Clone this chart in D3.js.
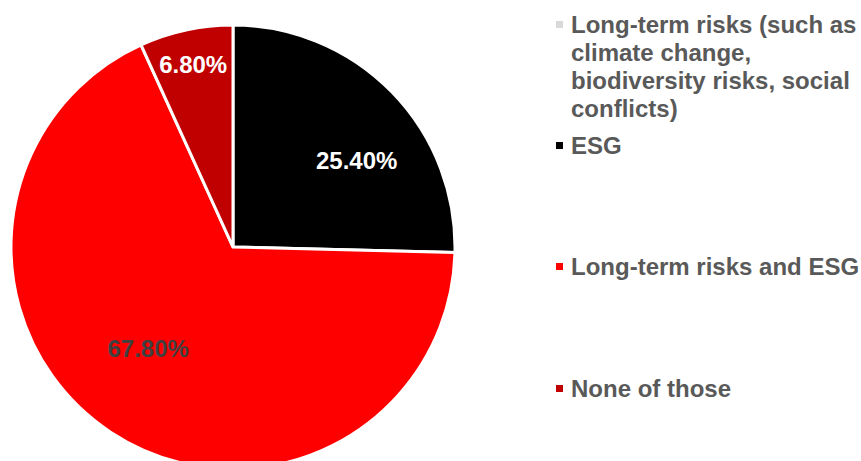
<!DOCTYPE html>
<html><head><meta charset="utf-8">
<script src="https://cdn.jsdelivr.net/npm/d3@7"></script>
<style>html,body{margin:0;padding:0;background:#fff;}svg{display:block;}</style>
</head><body>
<svg id="chart" width="861" height="461"></svg>
<script>
const categories = ["Long-term risks (such as climate change, biodiversity risks, social conflicts)", "ESG", "Long-term risks and ESG", "None of those"];
const values = [0, 25.4, 67.8, 6.8];
const labels = ["", "25.40%", "67.80%", "6.80%"];
const legendLines = [["Long-term risks (such as", "climate change,", "biodiversity risks, social", "conflicts)"], ["ESG"], ["Long-term risks and ESG"], ["None of those"]];
const colors = ["#d9d9d9", "#000000", "#ff0000", "#c00000"];
const labelColors = ["#ffffff", "#ffffff", "#404040", "#ffffff"];
// label placement: [angle in degrees clockwise from top, radius]
const labelPlace = [[0, 0], [55, 151], [220, 132], [347.7, 187]];

const FONT = "'Liberation Sans', Arial, Helvetica, sans-serif";
const svg = d3.select("#chart");
const cx = 233, cy = 247, r = 222;
const g = svg.append("g").attr("transform", `translate(${cx},${cy})`);
const pie = d3.pie().sort(null).value(d => d)(values);
const arc = d3.arc().innerRadius(0).outerRadius(r);
g.selectAll("path").data(pie).join("path")
  .attr("d", arc).attr("fill", (d, i) => colors[i])
  .attr("stroke", "#fff").attr("stroke-width", d => d.value > 0 ? 3 : 0).attr("stroke-linejoin", "miter");

g.selectAll("text.lbl").data(pie.filter(d => d.value > 0)).join("text")
  .attr("class", "lbl")
  .attr("x", d => { const [a, rr] = labelPlace[d.index]; return rr * Math.sin(a * Math.PI / 180); })
  .attr("y", d => { const [a, rr] = labelPlace[d.index]; return -rr * Math.cos(a * Math.PI / 180); })
  .attr("dy", "0.35em").attr("text-anchor", "middle")
  .style("font-family", FONT).attr("font-weight", "bold").attr("font-size", 24)
  .attr("fill", d => labelColors[d.index]).text(d => labels[d.index]);

const legendBase = [33, 154, 275, 397];
const lg = svg.append("g");
categories.forEach((c, i) => {
  lg.append("rect").attr("x", 556).attr("y", legendBase[i] - 12).attr("width", 7).attr("height", 7).attr("fill", colors[i]);
  const t = lg.append("text").attr("x", 571).attr("y", legendBase[i])
    .style("font-family", FONT).attr("font-weight", "bold").attr("font-size", 24).attr("fill", "#595959");
  legendLines[i].forEach((ln, j) => {
    t.append("tspan").attr("x", 571).attr("dy", j === 0 ? 0 : 28).text(ln);
  });
});
</script>
</body></html>
